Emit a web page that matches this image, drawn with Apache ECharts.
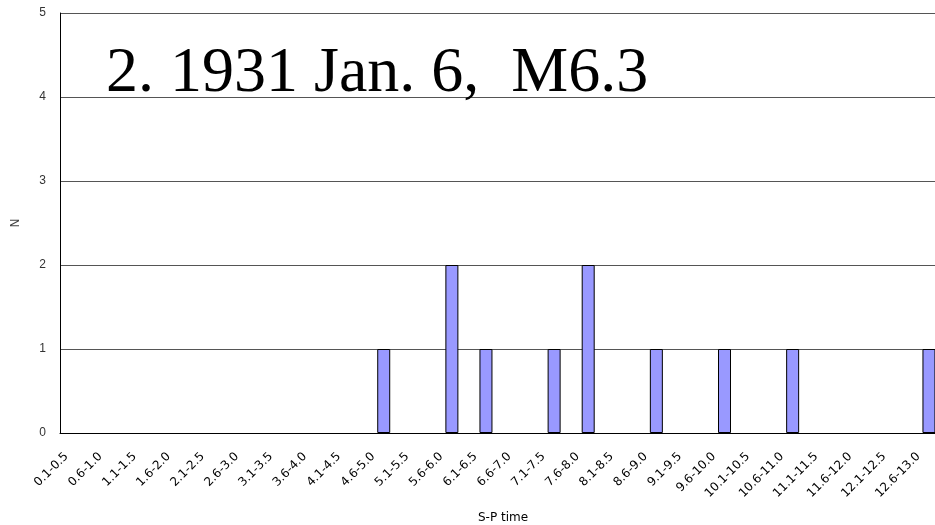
<!DOCTYPE html>
<html><head><meta charset="utf-8">
<script src="https://cdn.jsdelivr.net/npm/echarts@6/dist/echarts.min.js"></script>
<style>html,body{margin:0;padding:0;overflow:hidden;background:#fff}#c{width:960px;height:525px}</style>
</head><body><div id="c"></div>
<script>
const categories = ["0.1-0.5","0.6-1.0","1.1-1.5","1.6-2.0","2.1-2.5","2.6-3.0","3.1-3.5","3.6-4.0","4.1-4.5","4.6-5.0","5.1-5.5","5.6-6.0","6.1-6.5","6.6-7.0","7.1-7.5","7.6-8.0","8.1-8.5","8.6-9.0","9.1-9.5","9.6-10.0","10.1-10.5","10.6-11.0","11.1-11.5","11.6-12.0","12.1-12.5","12.6-13.0"];
const counts = [0,0,0,0,0,0,0,0,0,1,0,2,1,0,1,2,0,1,0,1,0,1,0,0,0,1];
const yTicks = [0,1,2,3,4,5];
const titleText = "2. 1931 Jan. 6,  M6.3";

const chart = echarts.init(document.getElementById('c'));
chart.setOption({
  animation:false,
  title:{text:titleText,left:101,top:37,textStyle:{fontFamily:'Liberation Serif',fontWeight:'normal',fontSize:64,color:'#000'}},
  grid:{left:60,right:14,top:13,bottom:92,outerBoundsMode:'none',containLabel:false},
  xAxis:{type:'category',data:categories,name:'S-P time',nameLocation:'middle',nameGap:79,
    nameTextStyle:{fontFamily:'DejaVu Sans',fontSize:12,color:'#000'},
    axisLine:{lineStyle:{color:'#000',width:1}},
    axisTick:{inside:true,length:5,lineStyle:{color:'#000'}},
    axisLabel:{interval:0,rotate:45,fontSize:12,fontFamily:'DejaVu Sans',color:'#000',margin:11,padding:[0,15,0,0]},
    splitLine:{show:false}},
  yAxis:{type:'value',min:yTicks[0],max:yTicks[yTicks.length-1],interval:1,name:'N',nameLocation:'middle',nameGap:38,
    nameTextStyle:{fontFamily:'DejaVu Sans',fontSize:12,color:'#444'},
    axisLine:{show:true,lineStyle:{color:'#000'}},axisTick:{show:false},
    axisLabel:{fontSize:12,fontFamily:'Liberation Sans',color:'#333',margin:14},
    splitLine:{lineStyle:{color:'#555',width:1}}},
  series:[{type:'bar',data:counts.map(v=>v===0?null:v),barWidth:13,itemStyle:{color:'#9999ff',borderColor:'#000',borderWidth:1}}]
});
</script></body></html>
